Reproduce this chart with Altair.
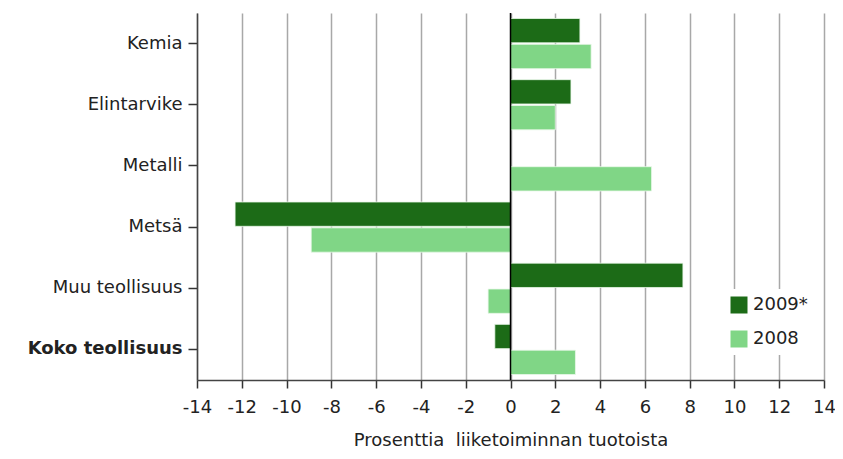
import altair as alt
import pandas as pd

categories = ["Kemia", "Elintarvike", "Metalli", "Metsä", "Muu teollisuus", "Koko teollisuus"]
series = ["2009*", "2008"]
v2009 = [3.1, 2.7, None, -12.3, 7.7, -0.7]
v2008 = [3.6, 2.0, 6.3, -8.9, -1.0, 2.9]
x_ticks = list(range(-14, 15, 2))
colors = ["#1c6b17", "#80d686"]

rows = []
for c, a, b in zip(categories, v2009, v2008):
    if a is not None:
        rows.append({"cat": c, "series": "2009*", "value": a})
    if b is not None:
        rows.append({"cat": c, "series": "2008", "value": b})
df = pd.DataFrame(rows)

FONT = "DejaVu Sans"
FS = 18

bars = alt.Chart(df).mark_bar(stroke="#eaf7ea", strokeWidth=0.8).encode(
    x=alt.X("value:Q",
            scale=alt.Scale(domain=[-14, 14], nice=False, zero=False),
            axis=alt.Axis(values=x_ticks, title="Prosenttia\u00a0 liiketoiminnan tuotoista",
                          labelOverlap=False, labelFlush=False,
                          labelExpr="datum.value < 0 ? '-' + abs(datum.value) : '' + datum.value",
                          grid=True, gridColor="#a8a8a8", gridWidth=1.5,
                          tickSize=8, tickColor="#333333", tickWidth=1.5,
                          domainColor="#444444", domainWidth=1.5,
                          labelFontSize=FS, labelFont=FONT, labelColor="#222222",
                          labelPadding=10, titleFont=FONT, titleFontSize=FS,
                          titleFontWeight="normal", titleColor="#222222", titlePadding=15)),
    y=alt.Y("cat:N", sort=categories,
            scale=alt.Scale(paddingInner=0.18, paddingOuter=0.09),
            axis=alt.Axis(title=None, tickSize=9, tickColor="#333333", tickWidth=1.5,
                          domainColor="#444444", domainWidth=1.5,
                          labelFontSize=FS, labelFont=FONT, labelColor="#222222",
                          labelPadding=6,
                          labelFontWeight={"condition": {"test": "datum.value == 'Koko teollisuus'", "value": "bold"}, "value": "normal"})),
    yOffset=alt.YOffset("series:N", sort=series, scale=alt.Scale(paddingInner=0.06)),
    color=alt.Color("series:N", sort=series,
                    scale=alt.Scale(domain=series, range=colors),
                    legend=alt.Legend(title=None, orient="none", legendX=526, legendY=276,
                                      fillColor="white", padding=7,
                                      symbolType="square", symbolSize=289, symbolStrokeWidth=0,
                                      symbolOpacity=1,
                                      labelFontSize=FS, labelFont=FONT, labelColor="#222222",
                                      labelOffset=5, rowPadding=16)),
)

zero = alt.Chart(pd.DataFrame({"x": [0]})).mark_rule(color="black", strokeWidth=1.5).encode(x="x:Q")

chart = alt.layer(bars, zero).properties(
    width=627, height=367,
    autosize=alt.AutoSizeParams(type="none"),
    padding={"left": 189, "top": 5, "right": 11, "bottom": 71},
    background="white",
).configure_view(stroke=None)

chart.save("out.html", embed_options={"renderer": "svg", "actions": False})
